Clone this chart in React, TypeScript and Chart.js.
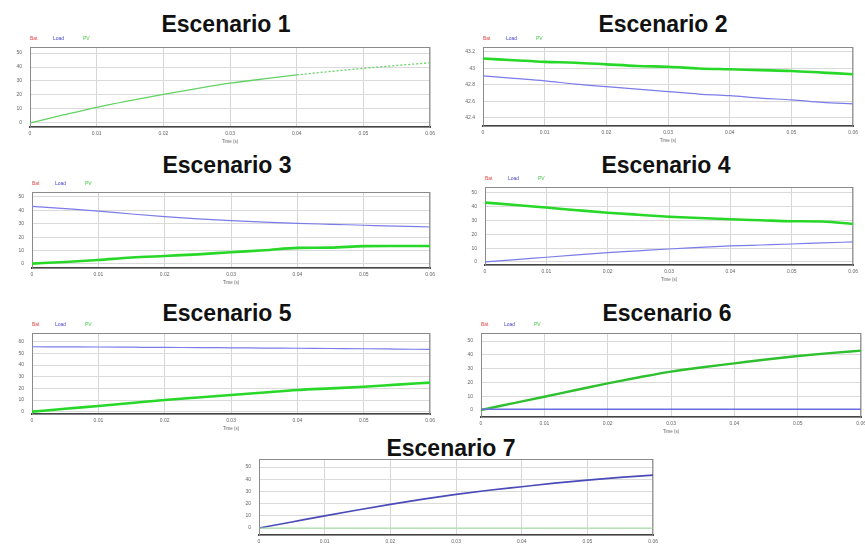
import React, { useEffect, useRef } from "react";
import { Chart, registerables } from "chart.js";

Chart.register(...registerables);
Chart.defaults.font.family = "'Liberation Sans', Arial, sans-serif";

// ---- data ----
const TIME = [0, 0.005, 0.01, 0.015, 0.02, 0.025, 0.03, 0.035, 0.04, 0.045, 0.05, 0.055, 0.06];
const X_TICK_LABELS = ["0", "0.01", "0.02", "0.03", "0.04", "0.05", "0.06"];
const LEGEND_LABELS = ["Bat", "Load", "PV"];
const TITLES = ["Escenario 1", "Escenario 2", "Escenario 3", "Escenario 4", "Escenario 5", "Escenario 6", "Escenario 7"];

const S1_PV = [0, 5.7, 11.2, 16, 20.5, 24.6, 28.4, 31.5, 34.3, 36.8, 39, 41.1, 43];

const S2_PV = [43.12, 43.1, 43.08, 43.07, 43.05, 43.03, 43.02, 43.0, 42.99, 42.98, 42.97, 42.95, 42.93];
const S2_LOAD = [42.91, 42.88, 42.85, 42.81, 42.78, 42.75, 42.72, 42.69, 42.67, 42.64, 42.62, 42.59, 42.57];
const Y2_TICK_LABELS = ["42.4", "42.6", "42.8", "43", "43.2"];

const S3_LOAD = [43, 41.3, 39.5, 37.3, 35.3, 33.7, 32.3, 31.2, 30.3, 29.6, 28.9, 28.2, 27.6];
const S3_PV = [0.3, 1.5, 3, 4.8, 6, 7.2, 8.8, 10.2, 12, 12.2, 13.3, 13.4, 13.4];

const S4_PV = [43, 41.3, 39.4, 37.5, 35.7, 34.2, 32.8, 31.8, 30.9, 30.2, 29.5, 29.3, 27.5];
const S4_LOAD = [0, 1.7, 3.4, 5.1, 6.8, 8.1, 9.4, 10.5, 11.6, 12.3, 13, 13.8, 14.5];

const S5_LOAD = [55.7, 55.6, 55.5, 55.3, 55.1, 55, 54.8, 54.6, 54.4, 54.2, 54, 53.7, 53.4];
const S5_PV = [0, 2.5, 4.9, 7.4, 10, 12.2, 14.3, 16.5, 18.6, 20, 21.4, 23.2, 24.9];

const S6_PV = [0, 4.8, 9.6, 14.5, 19.3, 23.7, 27.8, 31, 33.8, 36.6, 39.1, 41.2, 43];
const S6_LOAD = [0.5, 0.5, 0.5, 0.5, 0.5, 0.5, 0.5, 0.5, 0.5, 0.5, 0.5, 0.5, 0.5];

const S7_LOAD = [0, 5, 10, 14.8, 19.4, 23.7, 27.6, 31, 33.9, 36.8, 39.3, 41.5, 43.4];
const S7_PV = [0, 0, 0, 0, 0, 0, 0, 0, 0, 0, 0, 0, 0];

// ---- layout / style ----
const YW = 24;
const PAD_TOP = 12;
const PAD_RIGHT = 4;
const XH = 18;

const BLUE = "#7b7bea";
const GREEN = "#28d828";

type Series = { label: string; values: number[]; color: string; width: number; dashFrom?: number };
type Panel = {
  title: string;
  tx: number;
  tb: number;
  box: [number, number, number, number];
  ymin: number;
  ymax: number;
  ystep: number;
  yfmt?: (v: number) => string;
  legend: boolean;
  series: Series[];
};

const PANELS: Panel[] = [
  {
    title: TITLES[0], tx: 226, tb: 32, box: [30, 47, 435, 127], ymin: -2.9, ymax: 54.3, ystep: 10, legend: true,
    series: [{ label: LEGEND_LABELS[2], values: S1_PV, color: "#62d262", width: 1.3, dashFrom: 0.04 }],
  },
  {
    title: TITLES[1], tx: 663, tb: 32, box: [483, 47, 858, 126], ymin: 42.303, ymax: 43.26, ystep: 0.2, legend: true,
    yfmt: (v) => Y2_TICK_LABELS[Math.round((v - 42.4) / 0.2)] ?? "",
    series: [
      { label: LEGEND_LABELS[1], values: S2_LOAD, color: BLUE, width: 1.2 },
      { label: LEGEND_LABELS[2], values: S2_PV, color: GREEN, width: 2.6 },
    ],
  },
  {
    title: TITLES[2], tx: 227, tb: 173, box: [32, 192, 435, 268], ymin: -3, ymax: 53.7, ystep: 10, legend: true,
    series: [
      { label: LEGEND_LABELS[1], values: S3_LOAD, color: BLUE, width: 1.2 },
      { label: LEGEND_LABELS[2], values: S3_PV, color: GREEN, width: 2.6 },
    ],
  },
  {
    title: TITLES[3], tx: 666, tb: 173, box: [485, 187, 858, 265], ymin: -2.2, ymax: 54.3, ystep: 10, legend: true,
    series: [
      { label: LEGEND_LABELS[1], values: S4_LOAD, color: BLUE, width: 1.2 },
      { label: LEGEND_LABELS[2], values: S4_PV, color: GREEN, width: 2.6 },
    ],
  },
  {
    title: TITLES[4], tx: 227, tb: 321, box: [32, 333, 435, 414], ymin: -2, ymax: 67.5, ystep: 10, legend: true,
    series: [
      { label: LEGEND_LABELS[1], values: S5_LOAD, color: BLUE, width: 1.2 },
      { label: LEGEND_LABELS[2], values: S5_PV, color: GREEN, width: 2.6 },
    ],
  },
  {
    title: TITLES[5], tx: 667, tb: 321, box: [481, 333, 866, 417], ymin: -5.1, ymax: 55.8, ystep: 10, legend: true,
    series: [
      { label: LEGEND_LABELS[1], values: S6_LOAD, color: "#6a6ae0", width: 1.4 },
      { label: LEGEND_LABELS[2], values: S6_PV, color: "#2fc02f", width: 2.4 },
    ],
  },
  {
    title: TITLES[6], tx: 451, tb: 456, box: [259, 459, 658, 535], ymin: -5.7, ymax: 56.6, ystep: 10, legend: false,
    series: [
      { label: LEGEND_LABELS[2], values: S7_PV, color: "#9be39b", width: 1 },
      { label: LEGEND_LABELS[1], values: S7_LOAD, color: "#4a4ab8", width: 1.6 },
    ],
  },
];

const framePlugin = {
  id: "frame",
  beforeDatasetsDraw(chart: any) {
    const { ctx, chartArea: a } = chart;
    ctx.save();
    ctx.strokeStyle = "#8a8a8a";
    ctx.lineWidth = 1;
    ctx.strokeRect(a.left + 0.5, a.top + 0.5, a.right - a.left - 1, a.bottom - a.top);
    ctx.restore();
  },
  afterDraw(chart: any) {
    const opts = chart.options.plugins.miniLegend;
    if (!opts || !opts.show) return;
    const { ctx, chartArea: a } = chart;
    const offsets = [0, 23, 53];
    const colors = ["#e04848", "#4848c8", "#48c848"];
    ctx.save();
    ctx.font = "5px 'Liberation Sans', Arial, sans-serif";
    ctx.textBaseline = "middle";
    ctx.textAlign = "left";
    LEGEND_LABELS.forEach((t, i) => {
      ctx.fillStyle = colors[i];
      ctx.fillText(t, a.left + offsets[i], a.top - 8);
    });
    ctx.restore();
  },
};

function ChartPanel({ p }: { p: Panel }) {
  const ref = useRef<HTMLCanvasElement | null>(null);
  const [L, T, R, B] = p.box;
  const left = L - YW;
  const top = T - PAD_TOP;
  const width = R - L + YW + PAD_RIGHT;
  const height = B - T + PAD_TOP + XH;

  useEffect(() => {
    if (!ref.current) return;
    const chart = new Chart(ref.current, {
      type: "line",
      data: {
        datasets: p.series.map((s) => ({
          label: s.label,
          data: TIME.map((t, i) => ({ x: t, y: s.values[i] })),
          borderColor: s.color,
          backgroundColor: s.color,
          borderWidth: s.width,
          pointRadius: 0,
          cubicInterpolationMode: "monotone",
          fill: false,
          segment:
            s.dashFrom !== undefined
              ? { borderDash: (c: any) => (c.p0.parsed.x >= (s.dashFrom as number) ? [2, 2] : undefined) }
              : undefined,
        })),
      },
      options: {
        animation: false,
        responsive: false,
        maintainAspectRatio: false,
        layout: { padding: { top: PAD_TOP, right: PAD_RIGHT, left: 0, bottom: 0 } },
        plugins: {
          legend: { display: false },
          tooltip: { enabled: false },
          miniLegend: { show: p.legend },
        } as any,
        scales: {
          x: {
            type: "linear",
            min: 0,
            max: 0.06,
            ticks: {
              stepSize: 0.01,
              includeBounds: false,
              autoSkip: false,
              maxRotation: 0,
              font: { size: 5 },
              color: "#666",
              padding: 4,
              callback: (v: any) => X_TICK_LABELS[Math.round(Number(v) / 0.01)] ?? "",
            },
            grid: { color: "#d6d6d6", drawTicks: false },
            border: { color: "#444", width: 2 },
            title: { display: true, text: "Time (s)", font: { size: 4.5 }, color: "#666", padding: { top: 0, bottom: 1 } },
            afterFit: (s: any) => {
              s.height = XH;
            },
          },
          y: {
            type: "linear",
            min: p.ymin,
            max: p.ymax,
            ticks: {
              stepSize: p.ystep,
              includeBounds: false,
              font: { size: 5 },
              color: "#666",
              padding: 8,
              callback: (v: any) => (p.yfmt ? p.yfmt(Number(v)) : String(Math.round(Number(v)))),
            },
            grid: { color: "#dadada", drawTicks: false },
            border: { color: "#8a8a8a", width: 1 },
            afterFit: (s: any) => {
              s.width = YW;
            },
          },
        },
      } as any,
      plugins: [framePlugin],
    });
    return () => chart.destroy();
  }, []);

  return (
    <canvas
      ref={ref}
      width={width}
      height={height}
      style={{ position: "absolute", left, top, width, height }}
    />
  );
}

export default function App() {
  return (
    <div
      style={{
        position: "absolute",
        left: 0,
        top: 0,
        width: 865,
        height: 544,
        overflow: "hidden",
        background: "#fff",
      }}
    >
      {PANELS.map((p, i) => (
        <React.Fragment key={i}>
          <div
            style={{
              position: "absolute",
              left: p.tx - 150,
              top: p.tb - 19.5,
              width: 300,
              textAlign: "center",
              font: "bold 23px 'Liberation Sans', Arial, sans-serif",
              lineHeight: "23px",
              color: "#111",
              whiteSpace: "nowrap",
            }}
          >
            {p.title}
          </div>
          <ChartPanel p={p} />
        </React.Fragment>
      ))}
    </div>
  );
}
